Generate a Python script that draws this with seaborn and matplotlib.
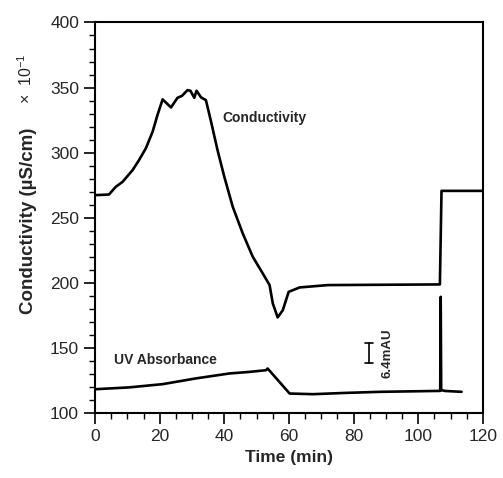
import numpy as np
import pandas as pd
import matplotlib
matplotlib.use("Agg")
import matplotlib.pyplot as plt
from matplotlib.ticker import MultipleLocator
import seaborn as sns

# Conductivity trace (x: min, y: uS/cm x 10^-1)
cond_time = [0, 4.3, 6.4, 8.5, 11.6, 13.6, 15.7, 17.8, 19.3, 20.9, 23.5, 25.5,
             26.9, 28.6, 29.5, 30.7, 31.4, 32.8, 34.3, 35.9, 37.9, 40.0, 42.6,
             45.7, 48.8, 51.9, 54.0, 55.0, 56.5, 58.1, 59.9, 63.3, 72.0, 106.1,
             106.7, 107.2, 120.0]
cond_value = [267.5, 268.0, 273.9, 277.7, 286.7, 294.4, 303.4, 316.1, 328.9,
              341.0, 334.8, 342.2, 343.7, 348.1, 347.6, 342.2, 347.6, 342.5,
              340.4, 323.8, 302.0, 281.5, 258.6, 238.1, 220.2, 207.4, 198.5,
              184.4, 173.7, 179.3, 193.3, 196.7, 198.5, 199.0, 199.0, 270.8,
              270.8]

# UV absorbance trace, drawn on the same scale
uv_time = [0, 10.5, 20.9, 31.2, 41.6, 47.8, 52.9, 53.4, 60.2, 67.4, 77.7,
           88.1, 106.1, 106.8, 106.95, 107.1, 108.2, 113.4]
uv_value = [118.6, 120.0, 122.5, 126.9, 130.7, 131.9, 133.2, 134.5, 115.3,
            114.8, 115.8, 116.6, 117.3, 117.3, 189.5, 118.0, 117.3, 116.6]

# scale bar for the absorbance
bar_x = 84.7
bar_lo, bar_hi = 138.4, 154.2

sns.set_style("ticks")
plt.rcParams["font.family"] = ["Liberation Sans", "DejaVu Sans"]
plt.rcParams["mathtext.fontset"] = "custom"
plt.rcParams["mathtext.rm"] = "Liberation Sans"

cond_df = pd.DataFrame({"time": cond_time, "value": cond_value})
uv_df = pd.DataFrame({"time": uv_time, "value": uv_value})

fig = plt.figure(figsize=(5.03, 4.78), dpi=100)
ax = fig.add_axes([0.189, 0.135, 0.771, 0.818])

sns.lineplot(data=cond_df, x="time", y="value", sort=False, estimator=None,
             color="black", linewidth=1.9, ax=ax)
sns.lineplot(data=uv_df, x="time", y="value", sort=False, estimator=None,
             color="black", linewidth=1.9, ax=ax)

# scale bar
ax.plot([bar_x, bar_x], [bar_lo, bar_hi], color="black", lw=1.2)
ax.plot([bar_x - 1.2, bar_x + 1.2], [bar_lo, bar_lo], color="black", lw=1.2)
ax.plot([bar_x - 1.2, bar_x + 1.2], [bar_hi, bar_hi], color="black", lw=1.2)
ax.text(90.5, 146, "6.4mAU", rotation=90, ha="center", va="center",
        fontsize=9.5, fontweight="bold")

ax.text(39.4, 326.6, "Conductivity", ha="left", va="center",
        fontsize=10, fontweight="bold")
ax.text(5.9, 140.9, "UV Absorbance", ha="left", va="center",
        fontsize=10, fontweight="bold")

ax.set_xlim(0, 120)
ax.set_ylim(100, 400)
ax.xaxis.set_major_locator(MultipleLocator(20))
ax.xaxis.set_minor_locator(MultipleLocator(5))
ax.yaxis.set_major_locator(MultipleLocator(50))
ax.yaxis.set_minor_locator(MultipleLocator(10))
ax.tick_params(which="major", direction="out", length=8, width=1.2,
               labelsize=12.5, color="black")
ax.tick_params(which="minor", direction="out", length=4, width=1.0,
               color="black")
for s in ax.spines.values():
    s.set_visible(True)
    s.set_linewidth(1.5)
    s.set_color("black")

ax.set_xlabel("Time (min)", fontsize=12.5, fontweight="bold")
ax.set_ylabel("")
fig.text(0.056, 0.538, "Conductivity (µS/cm)", rotation=90, ha="center",
         va="center", fontsize=13.5, fontweight="bold")
fig.text(0.051, 0.835, r"×  10$^{-1}$", rotation=90, ha="center",
         va="center", fontsize=11.5)

fig.savefig("out.png", dpi=100)
